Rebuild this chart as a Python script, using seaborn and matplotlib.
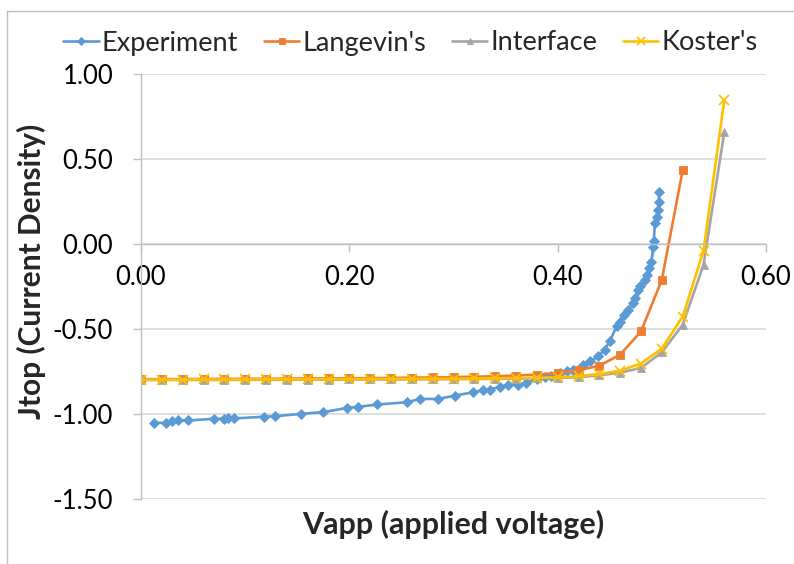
import matplotlib
matplotlib.use("Agg")
import matplotlib.pyplot as plt
import seaborn as sns
import numpy as np
import pandas as pd
from matplotlib.lines import Line2D
from matplotlib.ticker import FuncFormatter

# ---------------- data ----------------
exp_v = [0.0125, 0.024, 0.0295, 0.0352, 0.0454, 0.0703, 0.0797, 0.0838, 0.0895, 0.118,
         0.129, 0.154, 0.175, 0.198, 0.2085, 0.227, 0.255, 0.268, 0.285, 0.301,
         0.319, 0.3285, 0.335, 0.3445, 0.3525, 0.362, 0.370, 0.380, 0.388, 0.394,
         0.402, 0.4085, 0.415, 0.4245, 0.431, 0.439, 0.445, 0.450, 0.4565, 0.460,
         0.4635, 0.4677, 0.4725, 0.474, 0.477, 0.479, 0.4837, 0.4853, 0.488, 0.490,
         0.4917, 0.4923, 0.4923, 0.4917, 0.4923, 0.4933, 0.495, 0.4965, 0.497, 0.4975]
exp_j = [-1.052, -1.052, -1.044, -1.038, -1.038, -1.028, -1.028, -1.022, -1.026, -1.016,
         -1.013, -0.999, -0.989, -0.964, -0.958, -0.944, -0.931, -0.911, -0.912, -0.892,
         -0.872, -0.860, -0.856, -0.840, -0.827, -0.827, -0.817, -0.794, -0.782, -0.778,
         -0.758, -0.749, -0.739, -0.710, -0.690, -0.661, -0.622, -0.573, -0.485, -0.456,
         -0.416, -0.387, -0.348, -0.318, -0.270, -0.250, -0.211, -0.182, -0.143, -0.104,
         -0.074, -0.035, 0.004, 0.043, 0.082, 0.121, 0.160, 0.199, 0.248, 0.307]

lang_v = [0.00, 0.02, 0.04, 0.06, 0.08, 0.10, 0.12, 0.14, 0.16, 0.18, 0.20, 0.22, 0.24,
          0.26, 0.28, 0.30, 0.32, 0.34, 0.36, 0.38, 0.40, 0.42, 0.44, 0.46, 0.48, 0.50, 0.52]
lang_j = [-0.795, -0.795, -0.795, -0.794, -0.794, -0.793, -0.793, -0.792, -0.791, -0.791,
          -0.790, -0.789, -0.788, -0.786, -0.785, -0.783, -0.781, -0.778, -0.774, -0.768,
          -0.758, -0.743, -0.716, -0.651, -0.514, -0.211, 0.434]

intf_v = [0.00, 0.02, 0.04, 0.06, 0.08, 0.10, 0.12, 0.14, 0.16, 0.18, 0.20, 0.22, 0.24,
          0.26, 0.28, 0.30, 0.32, 0.34, 0.36, 0.38, 0.40, 0.42, 0.44, 0.46, 0.48, 0.50,
          0.52, 0.54, 0.56]
intf_j = [-0.800, -0.800, -0.800, -0.800, -0.799, -0.799, -0.799, -0.798, -0.798, -0.798,
          -0.797, -0.797, -0.797, -0.796, -0.796, -0.795, -0.794, -0.793, -0.792, -0.790,
          -0.788, -0.784, -0.772, -0.757, -0.729, -0.637, -0.475, -0.123, 0.659]

kost_v = [0.00, 0.02, 0.04, 0.06, 0.08, 0.10, 0.12, 0.14, 0.16, 0.18, 0.20, 0.22, 0.24,
          0.26, 0.28, 0.30, 0.32, 0.34, 0.36, 0.38, 0.40, 0.42, 0.44, 0.46, 0.48, 0.50,
          0.52, 0.54, 0.56]
kost_j = [-0.798, -0.798, -0.798, -0.797, -0.797, -0.797, -0.796, -0.796, -0.796, -0.795,
          -0.795, -0.794, -0.794, -0.793, -0.793, -0.792, -0.791, -0.790, -0.789, -0.787,
          -0.785, -0.778, -0.765, -0.745, -0.703, -0.615, -0.428, -0.040, 0.848]

series_names = ["Experiment", "Langevin's", "Interface", "Koster's"]
x_ticks = [0.0, 0.2, 0.4, 0.6]
y_ticks = [-1.5, -1.0, -0.5, 0.0, 0.5, 1.0]
x_title = "Vapp (applied voltage)"
y_title = "Jtop (Current Density)"

# ---------------- style ----------------
sns.set_style("white")
plt.rcParams['font.family'] = ['Lato', 'DejaVu Sans']

colors = {"Experiment": "#5B9BD5", "Langevin's": "#ED7D31",
          "Interface": "#A5A5A5", "Koster's": "#FFC000"}
markers = {"Experiment": "D", "Langevin's": "s", "Interface": "^", "Koster's": "x"}
msizes = {"Experiment": 5.2, "Langevin's": 6, "Interface": 6, "Koster's": 6.5}

fig = plt.figure(figsize=(7.94, 5.64), dpi=100)
W, H = 794, 564
ax = fig.add_axes([141 / W, 1 - 499 / H, (766 - 141) / W, (499 - 74) / H])

data = [(exp_v, exp_j), (lang_v, lang_j), (intf_v, intf_j), (kost_v, kost_j)]
for name, (xv, yv) in zip(series_names, data):
    df = pd.DataFrame({"V": xv, "J": yv})
    mk = markers[name]
    kw = dict(markeredgewidth=1.2) if mk == "x" else dict(markeredgewidth=0.6)
    sns.lineplot(data=df, x="V", y="J", sort=False, ax=ax, color=colors[name],
                 marker=mk, markersize=msizes[name], markeredgecolor=colors[name],
                 linewidth=1.9, label=name, **kw)

ax.set_xlim(0, 0.6)
ax.set_ylim(-1.5, 1.0)
ax.set_xticks(x_ticks)
ax.set_yticks(y_ticks)
fmt = FuncFormatter(lambda v, p: f"{v:.2f}")
ax.xaxis.set_major_formatter(fmt)
ax.yaxis.set_major_formatter(fmt)

ax.grid(axis="y", color="#d9d9d9", linewidth=1.2)
ax.grid(axis="x", visible=False)
ax.set_axisbelow(True)

for s in ["top", "right"]:
    ax.spines[s].set_visible(False)
ax.spines["bottom"].set_position(("data", 0))
ax.spines["bottom"].set_color("#bfbfbf")
ax.spines["left"].set_color("#bfbfbf")
ax.spines["bottom"].set_linewidth(1.0)
ax.spines["left"].set_linewidth(1.0)

ax.tick_params(axis="x", direction="out", length=6, width=1.0, color="#bfbfbf",
               labelsize=18.5, pad=9, bottom=True)
ax.tick_params(axis="y", direction="out", length=6, width=1.0, color="#bfbfbf",
               labelsize=18.5, pad=14, left=True)
for lbl in ax.get_xticklabels() + ax.get_yticklabels():
    lbl.set_color("black")

ax.set_xlabel(x_title, fontsize=22, fontweight="bold")
ax.set_ylabel(y_title, fontsize=21.5, fontweight="bold")
ax.xaxis.set_label_coords(0.5, -0.025)
ax.yaxis.set_label_coords(-0.152, 0.535)

handles, labels = ax.get_legend_handles_labels()
ax.get_legend().remove()
leg = fig.legend(handles, labels, ncol=4, loc="center",
                 bbox_to_anchor=(0.517, 1 - 43 / H), frameon=False,
                 fontsize=19.5, handlelength=1.3, handletextpad=0.12,
                 columnspacing=0.95, markerscale=0.8)

# chart-area border (top and left edges visible)
fig.add_artist(Line2D([7 / W, 1.0], [1 - 11 / H, 1 - 11 / H], transform=fig.transFigure,
                      color="#bfbfbf", linewidth=1.0))
fig.add_artist(Line2D([7 / W, 7 / W], [0.0, 1 - 11 / H], transform=fig.transFigure,
                      color="#bfbfbf", linewidth=1.0))

fig.savefig("out.png", dpi=100)
